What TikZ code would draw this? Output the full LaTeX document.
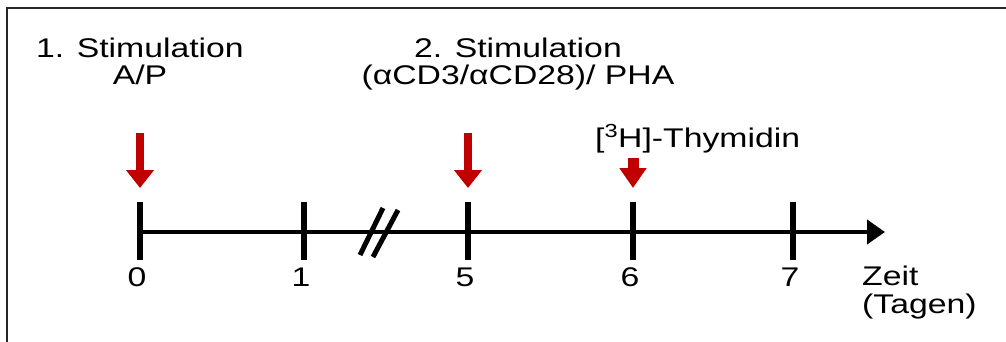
\documentclass[tikz,border=0pt]{standalone}
\usepackage{fontspec}
\setmainfont{Liberation Sans}[FakeStretch=1.25]
\usetikzlibrary{arrows.meta}
\definecolor{stimred}{HTML}{C00000}
\tikzset{
  axisline/.style={line width=4pt, -{Triangle[length=18pt,width=24pt]}},
  daytick/.style={line width=6pt},
  breakmark/.style={line width=5pt},
  stimarr/.style={draw=stimred, line width=8pt, -{Triangle[length=18pt,width=27pt]}},
  labelarr/.style={draw=stimred, line width=11pt, -{Triangle[length=20pt,width=26pt]}},
  lbl/.style={font=\fontsize{27}{28}\selectfont, inner sep=0pt, align=center},
  num/.style={lbl, anchor=base},
  frameline/.style={draw=black!85, line width=2pt}
}

\begin{document}
\begin{tikzpicture}[x=1pt, y=-1pt]
  \useasboundingbox (0,0) rectangle (1006,342);
  \draw[frameline] (7,342) |- (1006,8);

  % time axis
  \coordinate (d0) at (140,232);
  \coordinate (tend) at (885,232);
  \draw[axisline] (d0) -- (tend);
  \foreach \d/\x in {0/140,1/304,5/468,6/633,7/793} {
    \coordinate (d\d) at (\x,232);
    \draw[daytick] ([yshift=30pt]d\d) -- ([yshift=-28pt]d\d);
    \node[num] (n\d) at ([xshift=-3pt]\x,286) {\d};
  }
  \coordinate (brk) at (379,232);
  \draw[breakmark] ([shift={(-19,23)}]brk) -- ([shift={(4,-24)}]brk);
  \draw[breakmark] ([shift={(-6,25)}]brk) -- ([shift={(19,-22)}]brk);

  % stimulation arrows
  \coordinate (s0) at (140,133);
  \coordinate (s5) at (468,133);
  \coordinate (s6) at (633,158);
  \draw[stimarr] (s0) -- ([yshift=44pt]d0);
  \draw[stimarr] (s5) -- ([yshift=44pt]d5);
  \draw[labelarr] (s6) -- ([yshift=44pt]d6);

  % labels (base = last line)
  \node[lbl, anchor=base] (stim1) at (140,85) {1. Stimulation\\A/P};
  \node[lbl, anchor=base] (stim2) at (518,85) {2. Stimulation\\(αCD3/αCD28)/ PHA};
  \node[lbl, anchor=base west] (thym) at (595,147) {[\textsuperscript{3}H]-Thymidin};
  \node[lbl, anchor=base west, align=left] (zeit) at (862,313) {Zeit\\(Tagen)};
\end{tikzpicture}
\end{document}
